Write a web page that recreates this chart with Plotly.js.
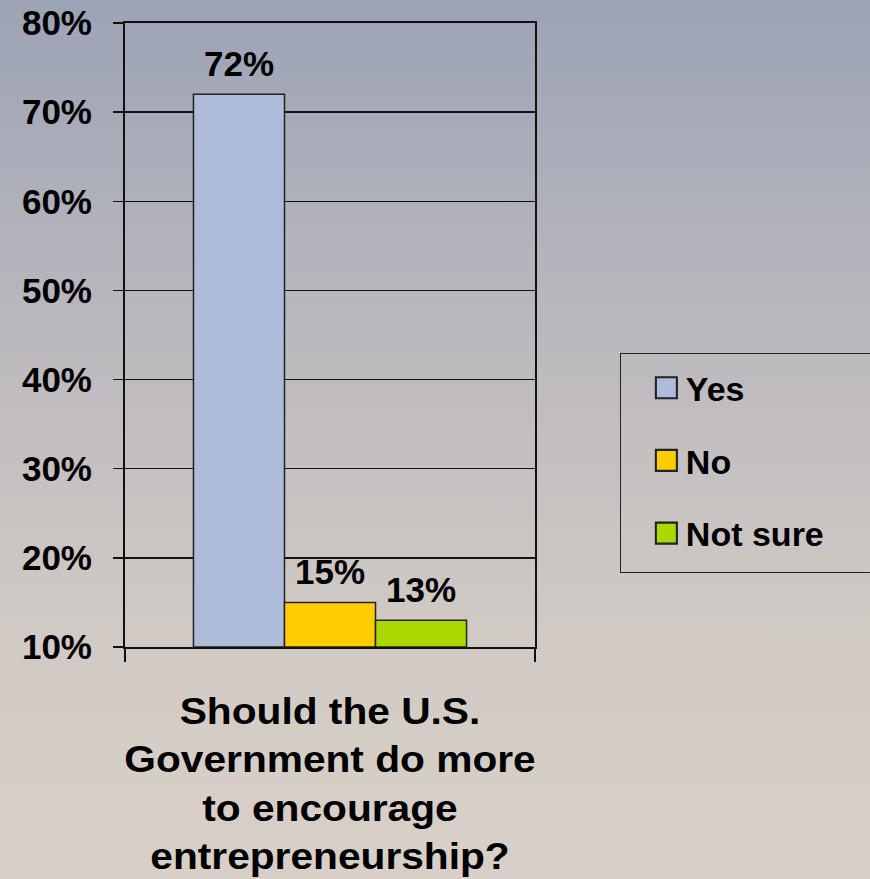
<!DOCTYPE html>
<html>
<head>
<meta charset="utf-8">
<script src="https://cdn.plot.ly/plotly-3.0.1.min.js"></script>
<style>
  html, body { margin: 0; padding: 0; }
  body {
    width: 870px; height: 879px; overflow: hidden;
    background: linear-gradient(to bottom, #9ca3b5 0%, #b4b4bc 30%, #c4bfc0 50%, #d2cbc5 75%, #d8d0c8 100%);
  }
  #chart { width: 870px; height: 879px; }
</style>
</head>
<body>
<div id="chart"></div>
<script>
const question = ["Should the U.S.<br>Government do more<br>to encourage<br>entrepreneurship?"];
const seriesNames = ["Yes", "No", "Not sure"];
const seriesValues = [72, 15, 13];
const seriesColors = ["#aebcd9", "#ffcc00", "#aad800"];
const yTickVals = [10, 20, 30, 40, 50, 60, 70, 80];
const yTickText = ["10%", "20%", "30%", "40%", "50%", "60%", "70%", "80%"];
const axisBase = 10;

const FONT = "Liberation Sans, Arial, sans-serif";

const traces = seriesNames.map((name, i) => ({
  type: "bar",
  name: name,
  legendgroup: name,
  x: question,
  y: [seriesValues[i] - axisBase],
  base: axisBase,
  text: [seriesValues[i] + "%"],
  textposition: "outside",
  cliponaxis: false,
  textfont: { family: FONT, size: 35, color: "#000", weight: "bold" },
  marker: { color: seriesColors[i], line: { color: "#222", width: 1.5 } },
  hoverinfo: "skip"
}));

const layout = {
  width: 870,
  height: 879,
  paper_bgcolor: "rgba(0,0,0,0)",
  plot_bgcolor: "rgba(0,0,0,0)",
  margin: { l: 125, r: 335, t: 23, b: 232 },
  barmode: "group",
  bargap: 0.334,
  bargroupgap: 0,
  font: { family: FONT, color: "#000", weight: "bold" },
  xaxis: {
    type: "category",
    showline: true,
    linecolor: "#111",
    linewidth: 2,
    mirror: true,
    ticks: "outside",
    tickson: "boundaries",
    ticklen: 13,
    tickwidth: 2,
    tickcolor: "#111",
    showgrid: false,
    tickfont: { family: FONT, size: 37, color: "#000", weight: "bold" },
    ticklabelstandoff: 31
  },
  yaxis: {
    range: [10, 80],
    tickvals: yTickVals,
    ticktext: yTickText,
    showline: true,
    linecolor: "#111",
    linewidth: 2,
    mirror: true,
    ticks: "outside",
    ticklen: 10,
    tickwidth: 1.5,
    tickcolor: "#111",
    showgrid: true,
    gridcolor: "#111",
    gridwidth: 1.5,
    zeroline: false,
    tickfont: { family: FONT, size: 35, color: "#000", weight: "bold" },
    ticklabelstandoff: 14
  },
  showlegend: true,
  legend: {
    x: 1.207,
    xanchor: "left",
    y: 0.463,
    yanchor: "top",
    bgcolor: "rgba(0,0,0,0)",
    bordercolor: "#222",
    borderwidth: 1,
    font: { family: FONT, size: 34, color: "#000", weight: "bold" },
    tracegroupgap: 25.5,
    itemwidth: 55,
    traceorder: "grouped"
  }
};

Plotly.newPlot("chart", traces, layout, { staticPlot: true, displayModeBar: false }).then(gd => {
  // Enlarge legend swatches
  gd.querySelectorAll(".legend .legendpoints path").forEach(p => {
    const t = p.getAttribute("transform") || "";
    p.setAttribute("transform", t + " translate(13,0) scale(1.75)");
    p.style.strokeWidth = "1.2px";
  });
  // Extend legend frame like the original (runs past the right edge)
  const bg = gd.querySelector(".legend rect.bg");
  if (bg) {
    const y = parseFloat(bg.getAttribute("y") || 0);
    const h = parseFloat(bg.getAttribute("height"));
    bg.setAttribute("y", y - 5);
    bg.setAttribute("height", h + 15);
    bg.setAttribute("width", 300);
  }
  // Lift bar value labels a little above the bars
  gd.querySelectorAll(".barlayer .bartext").forEach(t => {
    const tr = t.getAttribute("transform") || "";
    t.setAttribute("transform", "translate(0,-8) " + tr);
  });
  // Widen the category label slightly, as in the original artwork
  gd.querySelectorAll(".xtick text").forEach(t => {
    const tr = t.getAttribute("transform") || "";
    t.setAttribute("transform", tr + " scale(1.1,1)");
  });
});
</script>
</body>
</html>
